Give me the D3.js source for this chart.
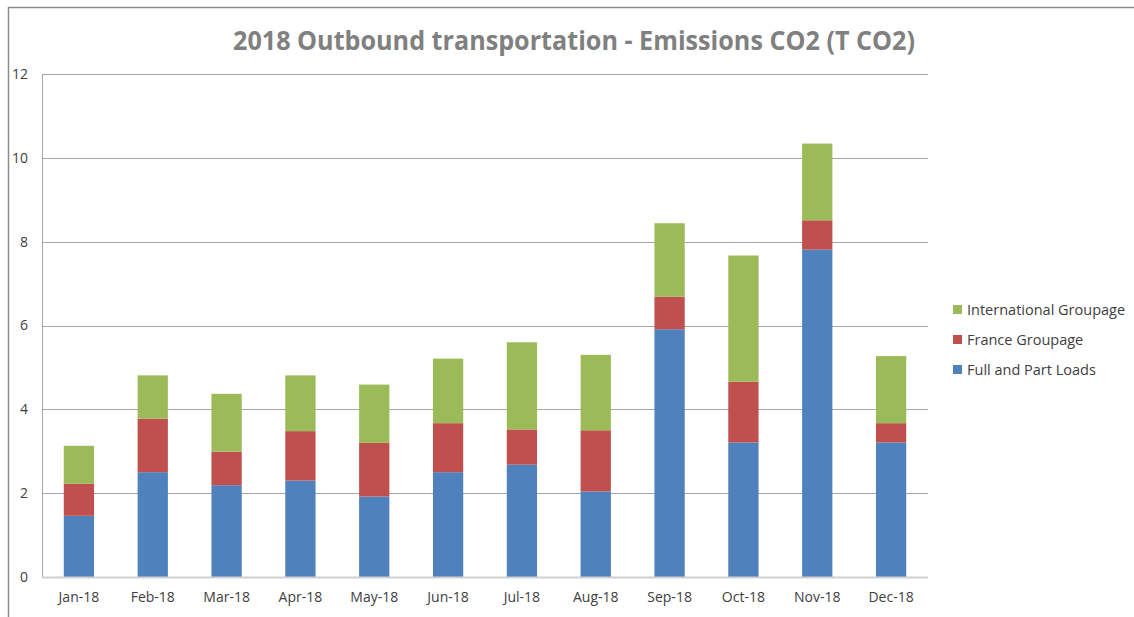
<!DOCTYPE html>
<html>
<head>
<meta charset="utf-8">
<script src="https://cdn.jsdelivr.net/npm/d3@7"></script>
<style>
html,body{margin:0;padding:0;background:#fff;}
svg{display:block;}
</style>
</head>
<body>
<svg id="chart" width="1134" height="617"></svg>
<script>
const months = ["Jan-18","Feb-18","Mar-18","Apr-18","May-18","Jun-18","Jul-18","Aug-18","Sep-18","Oct-18","Nov-18","Dec-18"];
const fullPartLoads = [1.46,2.50,2.19,2.30,1.92,2.50,2.68,2.04,5.91,3.21,7.81,3.21];
const franceGroupage = [0.77,1.28,0.80,1.18,1.28,1.17,0.84,1.46,0.78,1.45,0.70,0.46];
const internationalGroupage = [0.90,1.03,1.38,1.33,1.39,1.54,2.08,1.80,1.75,3.01,1.83,1.60];
const seriesNames = ["Full and Part Loads","France Groupage","International Groupage"];
const seriesColors = ["#4f81bd","#c0504d","#9bbb59"];
const yTicks = [0,2,4,6,8,10,12];
const titleText = "2018 Outbound transportation - Emissions CO2 (T CO2)";

const svg = d3.select("#chart");
const font = "'Open Sans', 'Noto Sans', sans-serif";

// frame lines
svg.append("line").attr("x1",8.5).attr("x2",1134).attr("y1",7.5).attr("y2",7.5).attr("stroke","#8c8c8c").attr("stroke-width",1.5);
svg.append("line").attr("x1",8.5).attr("x2",8.5).attr("y1",7).attr("y2",617).attr("stroke","#8c8c8c").attr("stroke-width",1.5);

const plot = {left:42, right:928, top:74, bottom:577};

const table = months.map((m,i)=>({month:m, "Full and Part Loads":fullPartLoads[i], "France Groupage":franceGroupage[i], "International Groupage":internationalGroupage[i]}));
const stacked = d3.stack().keys(seriesNames)(table);

const x = d3.scaleBand().domain(months).range([plot.left, plot.right]).paddingInner(0.59).paddingOuter(0.295);
const y = d3.scaleLinear().domain([0,12]).range([plot.bottom, plot.top]);

// gridlines
svg.append("g").selectAll("line").data(yTicks.filter(t=>t>0)).join("line")
  .attr("x1",plot.left).attr("x2",plot.right)
  .attr("y1",d=>Math.round(y(d))+0.5).attr("y2",d=>Math.round(y(d))+0.5)
  .attr("stroke","#a6a6a6").attr("stroke-width",1);

// left axis line
svg.append("line").attr("x1",plot.left+0.5).attr("x2",plot.left+0.5).attr("y1",plot.top).attr("y2",plot.bottom)
  .attr("stroke","#a6a6a6");

// bars
svg.append("g").selectAll("g").data(stacked).join("g")
  .attr("fill",(d,i)=>seriesColors[i])
  .selectAll("rect").data(d=>d).join("rect")
  .attr("x",d=>x(d.data.month))
  .attr("width",x.bandwidth())
  .attr("y",d=>y(d[1]))
  .attr("height",d=>y(d[0])-y(d[1]));

// baseline
svg.append("line").attr("x1",plot.left).attr("x2",plot.right).attr("y1",plot.bottom+0.5).attr("y2",plot.bottom+0.5)
  .attr("stroke","#d0d0d0").attr("stroke-width",2);

// y axis labels
const yAxis = d3.axisLeft(y).tickValues(yTicks).tickSize(0).tickPadding(0).tickFormat(d3.format("d"));
const yg = svg.append("g").attr("transform",`translate(28,0)`).call(yAxis);
yg.select(".domain").remove();
yg.selectAll("text").attr("font-family",font).attr("font-size",14).attr("fill","#404040");

// x axis labels
const xAxis = d3.axisBottom(x).tickSize(0).tickPadding(0);
const xg = svg.append("g").attr("transform",`translate(0,${plot.bottom+15})`).call(xAxis);
xg.select(".domain").remove();
xg.selectAll("text").attr("font-family",font).attr("font-size",14).attr("fill","#404040");

// title
svg.append("text").attr("x",574).attr("y",50).attr("text-anchor","middle")
  .attr("font-family",font).attr("font-weight","bold").attr("font-size",27).attr("fill","#808080")
  .attr("textLength",682).attr("lengthAdjust","spacingAndGlyphs")
  .text(titleText);

// legend
const legendOrder = [2,1,0];
const lg = svg.append("g").selectAll("g").data(legendOrder).join("g")
  .attr("transform",(d,i)=>`translate(953,${310+i*30})`);
lg.append("rect").attr("x",0).attr("y",-5).attr("width",9).attr("height",9).attr("fill",d=>seriesColors[d]);
lg.append("text").attr("x",14).attr("y",5).attr("font-family",font).attr("font-size",14.5).attr("fill","#404040")
  .text(d=>seriesNames[d]);
</script>
</body>
</html>
